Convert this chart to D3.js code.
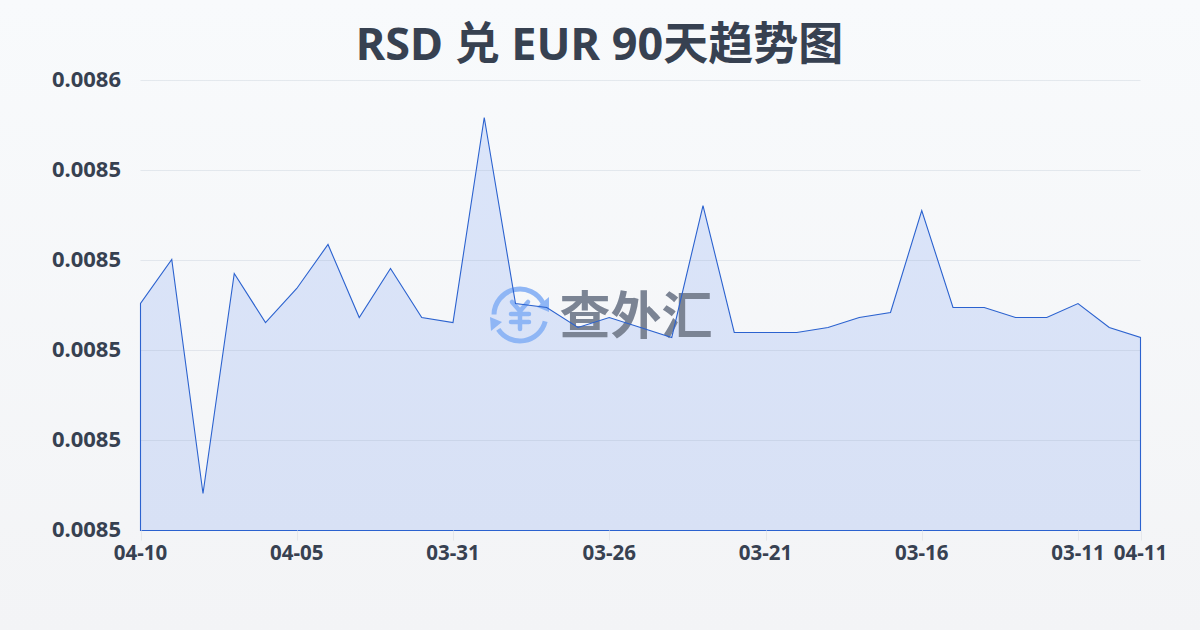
<!DOCTYPE html>
<html><head><meta charset="utf-8">
<script src="https://cdn.jsdelivr.net/npm/d3@7"></script>
<style>html,body{margin:0;padding:0;width:1200px;height:630px;overflow:hidden}svg{display:block}
text{font-family:"Noto Sans","Noto Sans CJK SC",sans-serif}</style></head><body>
<div id="chart"></div>
<script>
const chartTitle = "RSD 兑 EUR 90天趋势图";
const watermarkText = "查外汇";
const dates = ["04-10","04-09","04-08","04-07","04-06","04-05","04-04","04-03","04-02","04-01","03-31a","03-31","03-30","03-29","03-28","03-27","03-26","03-25","03-24","03-23","03-22","03-21","03-20","03-19","03-18","03-17","03-16","03-15","03-14","03-13","03-12","03-11","04-11"];
const xTickIndexes = [0,5,10,15,20,25,30,32];
const xTickLabels = ["04-10","04-05","03-31","03-26","03-21","03-16","03-11","04-11"];
const rates = [0.00850044,0.00851022,0.00845822,0.00850711,0.00849622,0.00850378,0.00851356,0.00849733,0.00850822,0.00849733,0.00849622,0.00854178,0.00850044,0.00849956,0.00849511,0.00849733,0.00849511,0.00849289,0.00852222,0.008494,0.008494,0.008494,0.00849511,0.00849733,0.00849844,0.00852111,0.00849956,0.00849956,0.00849733,0.00849733,0.00850044,0.00849511,0.00849289];
const yTicks = [0.00845,0.00847,0.00849,0.00851,0.00853,0.00855];
const yTickLabels = ["0.0085","0.0085","0.0085","0.0085","0.0085","0.0086"];

const W=1200,H=630,m={l:140.5,r:1140.5,t:80.5,b:530.5};
const svg=d3.select("#chart").append("svg").attr("width",W).attr("height",H);
const defs=svg.append("defs");
const bg=defs.append("linearGradient").attr("id","bg").attr("x1",0).attr("y1",0).attr("x2",0).attr("y2",1);
bg.append("stop").attr("offset",0).attr("stop-color","#f8fafc");
bg.append("stop").attr("offset",1).attr("stop-color","#f3f4f6");
const ag=defs.append("linearGradient").attr("id","ag").attr("gradientUnits","userSpaceOnUse").attr("x1",0).attr("y1",m.t).attr("x2",0).attr("y2",m.b);
ag.append("stop").attr("offset",0).attr("stop-color","#dbe5fa");
ag.append("stop").attr("offset",1).attr("stop-color","#d8e1f5");
svg.append("rect").attr("width",W).attr("height",H).attr("fill","url(#bg)");

const x=d3.scaleLinear().domain([0,dates.length-1]).range([m.l,m.r]);
const y=d3.scaleLinear().domain([yTicks[0],yTicks[yTicks.length-1]]).range([m.b,m.t]);

svg.append("text").attr("x",599.5).attr("y",60).attr("text-anchor","middle")
  .attr("font-size",45).attr("font-weight",700).attr("fill","#374151").text(chartTitle);

svg.append("path").datum(rates).attr("fill","url(#ag)")
  .attr("d",d3.area().x((d,i)=>x(i)).y0(m.b).y1(d=>y(d)));

svg.append("g").selectAll("line").data(yTicks.slice(1)).join("line")
  .attr("x1",m.l).attr("x2",m.r).attr("y1",d=>y(d)).attr("y2",d=>y(d))
  .attr("stroke","#94a3b8").attr("stroke-opacity",.2).attr("stroke-width",1);

// watermark
const wm=svg.append("g");
const ic=wm.append("g").attr("transform","translate(520,315)").attr("fill","none").attr("stroke","#8fb6f5");
ic.append("path").attr("stroke-width",5).attr("stroke-linecap","round").attr("d",d3.arc()({innerRadius:26,outerRadius:26,startAngle:-1.55,endAngle:1.1}));
ic.append("path").attr("stroke-width",5).attr("stroke-linecap","round").attr("d",d3.arc()({innerRadius:26,outerRadius:26,startAngle:1.82,endAngle:4.13}));
ic.append("path").attr("fill","#8fb6f5").attr("stroke","none").attr("d","M29,-18 L29,-3 L17,-8 Z");
ic.append("path").attr("fill","#8fb6f5").attr("stroke","none").attr("d","M-30,2 L-29,16 L-18,7 Z");
ic.append("path").attr("stroke-width",4.5).attr("stroke-linecap","round").attr("d","M-8,-13 L0,-4 L8,-13 M0,-4 L0,14 M-9,-1 L9,-1 M-9,7 L9,7");
wm.append("text").attr("x",636).attr("y",334).attr("text-anchor","middle").attr("font-size",51).attr("font-weight",700)
  .attr("fill","#7b8494").style("font-family",'"Noto Sans CJK SC"').text(watermarkText);

svg.append("path").datum(rates).attr("fill","none").attr("stroke","#2b62cf").attr("stroke-width",1.1).attr("stroke-linejoin","miter")
  .attr("d",d=>{const l=d3.line().x((v,i)=>x(i)).y(v=>y(v))(d);return "M"+m.l+","+m.b+"L"+l.slice(1)+"L"+m.r+","+m.b+"Z";});

svg.append("g").selectAll("line").data(xTickIndexes).join("line")
  .attr("x1",d=>Math.round(x(d))+.5).attr("x2",d=>Math.round(x(d))+.5).attr("y1",m.b).attr("y2",m.b+10)
  .attr("stroke","#e5e7eb");
svg.append("g").selectAll("text").data(xTickIndexes).join("text")
  .attr("x",d=>x(d)).attr("y",560).attr("text-anchor","middle").attr("font-size",20.5).attr("font-weight",700)
  .attr("fill","#374151").text((d,i)=>xTickLabels[i]);
svg.append("g").selectAll("text").data(yTicks).join("text")
  .attr("x",121).attr("y",d=>y(d)+6.5).attr("text-anchor","end").attr("font-size",22).attr("font-weight",700)
  .attr("fill","#374151").text((d,i)=>yTickLabels[i]);
</script></body></html>
